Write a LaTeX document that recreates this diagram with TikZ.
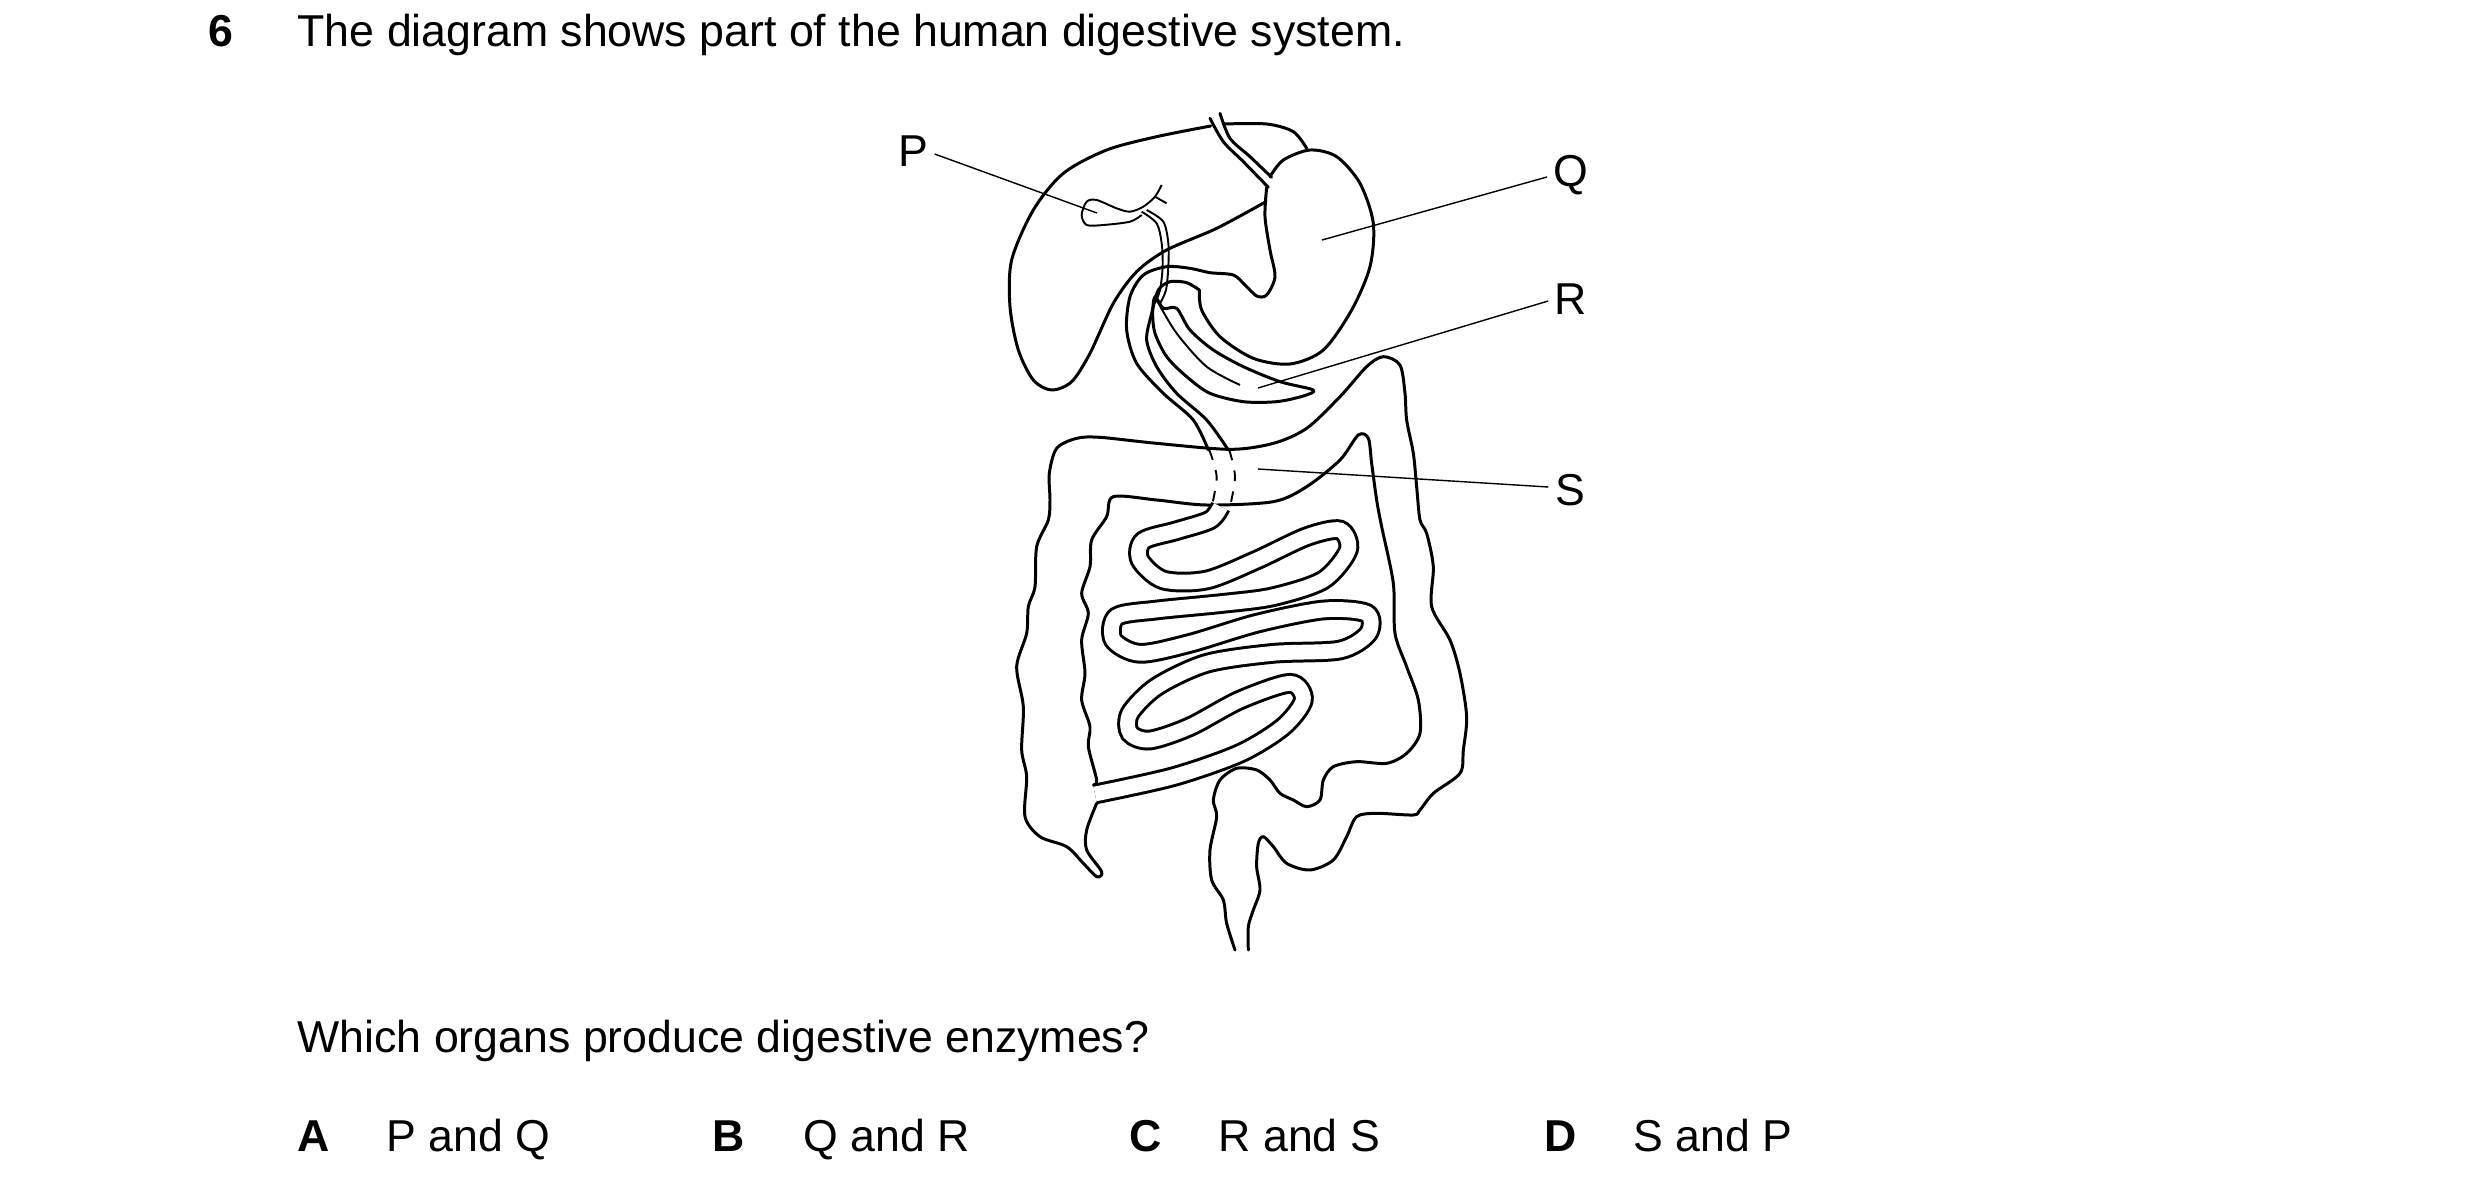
\documentclass[tikz,border=0pt]{standalone}
\usepackage{fontspec}
\setmainfont{Liberation Sans}
\begin{document}
\begin{tikzpicture}[x=0.01cm,y=-0.01cm,
  organ/.style={line width=0.85pt,line join=round,line cap=round},
  thin/.style={line width=0.55pt,line join=round},
  lead/.style={line width=0.4pt},
  txt/.style={anchor=base west,inner sep=0pt,font=\fontsize{12.7}{15}\selectfont},
  lab/.style={inner sep=0pt,font=\fontsize{12.7}{15}\selectfont}]
\useasboundingbox (0,0) rectangle (2480,1187);
% texts
\node[txt,font=\fontsize{12.7}{15}\selectfont\bfseries] (n6) at (208,46) {6};
\node[txt] (t1) at (297,46) {The diagram shows part of the human digestive system.};
\node[txt] (t2) at (297,1052) {Which organs produce digestive enzymes?};
\node[txt,font=\fontsize{12.7}{15}\selectfont\bfseries] (oa) at (297,1151) {A};
\node[txt] (oat) at (386,1151) {P and Q};
\node[txt,font=\fontsize{12.7}{15}\selectfont\bfseries] (ob) at (712,1151) {B};
\node[txt] (obt) at (803,1151) {Q and R};
\node[txt,font=\fontsize{12.7}{15}\selectfont\bfseries] (oc) at (1129,1151) {C};
\node[txt] (oct) at (1218,1151) {R and S};
\node[txt,font=\fontsize{12.7}{15}\selectfont\bfseries] (od) at (1544,1151) {D};
\node[txt] (odt) at (1633,1151) {S and P};
% labels
\node[lab] (P) at (913,151) {P};
\node[lab] (Q) at (1571,175) {Q};
\node[lab] (R) at (1571,299) {R};
\node[lab] (S) at (1570,490) {S};
\coordinate (pe) at (1097,213);
\coordinate (qe) at (1322,240);
\coordinate (re) at (1258,388);
\coordinate (se) at (1258,469);
\draw[lead] (P.east)++(6,3) -- (pe);
\draw[lead] (Q.west)++(-6,2) -- (qe);
\draw[lead] (R.west)++(-6,2) -- (re);
\draw[lead] (S.west)++(-6,-3) -- (se);
\begin{scope}[shift={(990,100)},scale=0.33333]
% liver
\draw[organ] plot[smooth] coordinates {(662,78) (500,110) (350,150) (220,220) (130,330) (65,480) (60,620) (85,750) (130,840) (185,870) (245,845) (300,760) (370,610) (440,515) (530,450) (680,385) (828,305)};
\draw[organ] plot[smooth] coordinates {(700,72) (830,72) (910,95) (950,145)};
% oesophagus
\draw[organ] plot[smooth] coordinates {(660,55) (700,125) (760,185) (835,262)};
\draw[organ] plot[smooth] coordinates {(690,40) (720,115) (780,170) (845,232)};
% stomach
\draw[organ] plot[smooth] coordinates {(840,230) (880,180) (960,150) (1040,170) (1110,250) (1150,370) (1140,500) (1085,630) (1000,750) (900,792) (790,775) (690,710) (635,630) (628,570)};
\draw[organ] plot[smooth] coordinates {(830,262) (825,350) (840,450) (855,530) (830,585) (800,588) (765,555) (730,525) (660,518) (600,505) (530,500) (460,525) (420,590) (410,690) (440,790) (520,880) (610,960) (655,1050)};
\draw[organ] plot[smooth] coordinates {(628,570) (590,548) (540,545) (505,570) (485,640) (470,720) (500,800) (560,880) (650,960) (715,1050)};
% pancreas
\draw[organ] plot[smooth cycle] coordinates {(495,590) (520,625) (560,625) (600,690) (670,750) (760,800) (870,845) (970,870) (940,888) (860,905) (760,905) (660,880) (590,830) (530,770) (495,700) (488,640)};
\draw[thin] plot[smooth] coordinates {(500,600) (560,700) (650,800) (750,855)};
% bile duct and gall bladder
\draw[thin] plot[smooth] coordinates {(455,335) (500,370) (515,430) (518,500) (510,570) (495,610)};
\draw[thin] plot[smooth] coordinates {(470,330) (520,365) (535,430) (535,500) (528,570) (510,610)};
\draw[thin] plot[smooth] coordinates {(515,255) (495,290) (460,320) (420,335) (380,325) (320,300) (290,305) (275,345) (290,375) (340,375) (420,365) (455,345)};
\draw[thin] (495,290) -- (530,310);
% dashed part
\draw[thin,dashed] plot[smooth] coordinates {(658,1050) (680,1130) (665,1220)};
\draw[thin,dashed] plot[smooth] coordinates {(718,1050) (735,1130) (720,1220)};
% large intestine outer
\draw[organ] plot[smooth] coordinates {(320,2110) (290,2190) (290,2250) (335,2315) (320,2330) (280,2290) (230,2240) (150,2210) (105,2150) (110,2030) (95,1950) (100,1820) (80,1700) (110,1600) (115,1520) (135,1460) (140,1340) (175,1260) (180,1200) (178,1120) (200,1045) (260,1015) (330,1012) (500,1030) (720,1048) (850,1030) (950,985) (1050,890) (1130,800) (1180,770) (1230,795) (1245,880) (1250,960) (1270,1060) (1280,1160) (1290,1260) (1310,1300) (1330,1400) (1325,1520) (1380,1620) (1410,1720) (1430,1850) (1420,1950) (1410,2020) (1330,2080) (1290,2130) (1270,2145) (1160,2140) (1100,2150) (1070,2210) (1030,2280) (960,2310) (890,2290) (850,2240) (820,2210) (805,2230) (800,2300) (810,2370) (790,2430) (775,2480) (775,2550)};
% large intestine inner
\draw[organ] plot[smooth] coordinates {(310,2055) (320,2040) (295,1940) (300,1880) (275,1800) (285,1720) (275,1620) (295,1540) (275,1480) (300,1400) (305,1320) (350,1250) (370,1190) (500,1200) (650,1215) (850,1205) (950,1160) (1050,1080) (1105,1005) (1135,1015) (1145,1090) (1160,1200) (1175,1280) (1210,1450) (1215,1600) (1250,1700) (1285,1800) (1290,1900) (1250,1960) (1190,1990) (1100,1985) (1030,2000) (1000,2040) (990,2100) (950,2120) (910,2100) (870,2080) (840,2040) (800,2010) (740,2005) (690,2040) (670,2100) (680,2150) (660,2250) (665,2340) (700,2400) (710,2470) (735,2550)};
% small intestine
\draw[line width=0.85pt,double=white,double distance=4.2pt] plot[smooth] coordinates {(692,1220) (660,1260) (560,1292) (460,1322) (450,1380) (520,1440) (650,1440) (800,1380) (950,1310) (1050,1290) (1075,1350) (1000,1440) (850,1490) (700,1510) (500,1530) (380,1550) (370,1620) (450,1660) (600,1630) (800,1570) (1000,1530) (1130,1540) (1135,1600) (1050,1650) (850,1660) (650,1690) (500,1760) (420,1840) (420,1900) (480,1920) (600,1880) (750,1800) (900,1750) (940,1800) (880,1880) (750,1960) (550,2030) (315,2082)};
\end{scope}
\end{tikzpicture}
\end{document}
